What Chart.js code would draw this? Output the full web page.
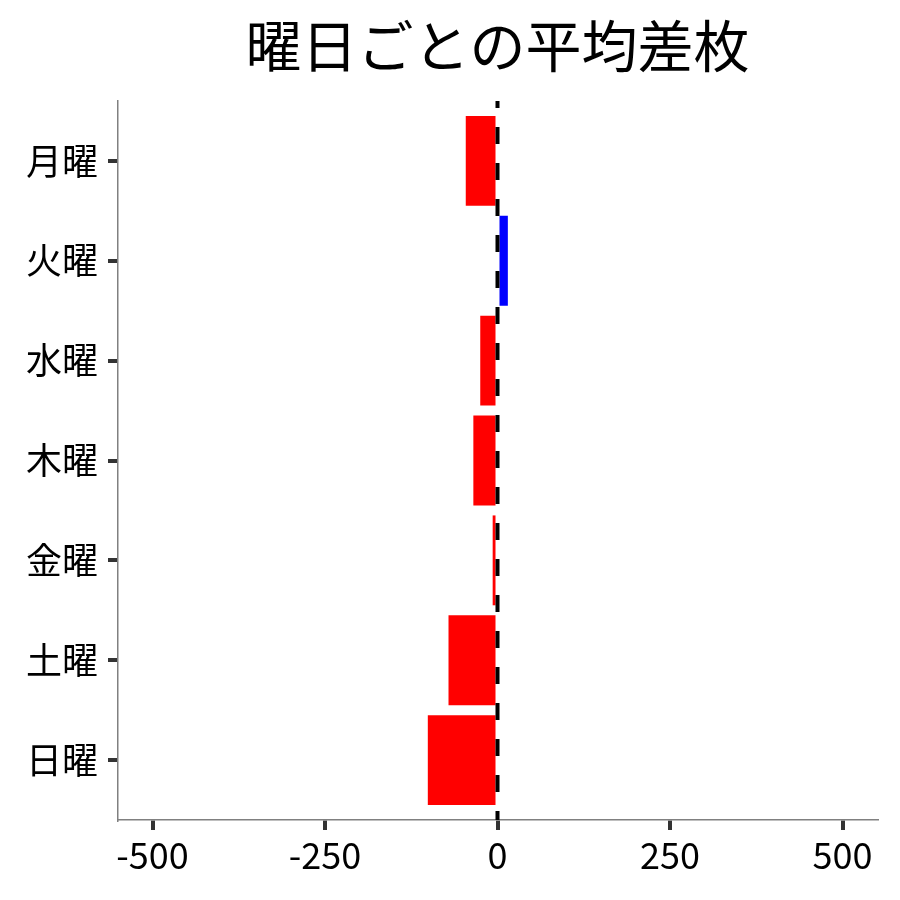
<!DOCTYPE html>
<html>
<head>
<meta charset="utf-8">
<script src="https://cdn.jsdelivr.net/npm/chart.js@4/dist/chart.umd.min.js"></script>
<style>
  html, body { margin: 0; padding: 0; background: #fff; }
  canvas { display: block; }
</style>
</head>
<body>
<canvas id="chart" width="900" height="900"></canvas>
<script>
// data
var days = ['月曜', '火曜', '水曜', '木曜', '金曜', '土曜', '日曜'];
var avgDiff = [-46, 15, -25, -35, -7, -71, -101];
var xTicks = [-500, -250, 0, 250, 500];
var titleText = '曜日ごとの平均差枚';

var FONT = "'Noto Sans CJK JP', 'Noto Sans', sans-serif";

// black dashed line at zero
var zeroLine = {
    id: 'zeroLine',
    afterDatasetsDraw: function (chart) {
        var ctx = chart.ctx;
        var x = chart.scales.x.getPixelForValue(0);
        var area = chart.chartArea;
        ctx.save();
        ctx.strokeStyle = '#000';
        ctx.lineWidth = 4;
        ctx.setLineDash([17, 19]);
        ctx.lineDashOffset = 10;
        ctx.beginPath();
        ctx.moveTo(x, area.top);
        ctx.lineTo(x, area.bottom);
        ctx.stroke();
        ctx.restore();
    }
};

// title centred over the plot area, not the canvas
var plotTitle = {
    id: 'plotTitle',
    afterDraw: function (chart) {
        var ctx = chart.ctx;
        var area = chart.chartArea;
        ctx.save();
        ctx.fillStyle = '#000';
        ctx.font = '56px ' + FONT;
        ctx.textAlign = 'center';
        ctx.textBaseline = 'middle';
        ctx.fillText(titleText, (area.left + area.right) / 2, 46);
        ctx.restore();
    }
};

var points = avgDiff.map(function (v, i) { return { x: v, y: i }; });

new Chart(document.getElementById('chart'), {
    type: 'bar',
    data: {
        datasets: [{
            data: points,
            backgroundColor: avgDiff.map(function (v) { return v < 0 ? '#ff0000' : '#0000ff'; }),
            borderWidth: 0,
            barPercentage: 0.9,
            categoryPercentage: 1.0
        }]
    },
    options: {
        indexAxis: 'y',
        responsive: false,
        animation: false,
        devicePixelRatio: 1,
        layout: { padding: { top: 101, right: 23, left: 0, bottom: 0 } },
        plugins: {
            legend: { display: false },
            tooltip: { enabled: false },
            title: { display: false }
        },
        scales: {
            x: {
                type: 'linear',
                min: -550,
                max: 550,
                afterBuildTicks: function (scale) {
                    scale.ticks = xTicks.map(function (v) { return { value: v }; });
                },
                afterFit: function (scale) { scale.height = 80; },
                ticks: {
                    color: '#000',
                    font: { family: FONT, size: 36 },
                    padding: 4,
                    maxRotation: 0,
                    callback: function (v) { return String(v); }
                },
                grid: {
                    display: true,
                    drawOnChartArea: false,
                    drawTicks: true,
                    tickLength: 10,
                    color: '#333',
                    lineWidth: 4
                },
                border: { display: true, color: '#808080', width: 1.5 }
            },
            y: {
                type: 'linear',
                reverse: true,
                offset: false,
                min: -0.6,
                max: 6.6,
                afterBuildTicks: function (scale) {
                    scale.ticks = days.map(function (d, i) { return { value: i }; });
                },
                afterFit: function (scale) { scale.width = 118; },
                ticks: {
                    color: '#000',
                    font: { family: FONT, size: 36 },
                    padding: 10,
                    callback: function (v) { return days[v]; }
                },
                grid: {
                    display: true,
                    offset: false,
                    drawOnChartArea: false,
                    drawTicks: true,
                    tickLength: 10,
                    color: '#333',
                    lineWidth: 4
                },
                border: { display: true, color: '#808080', width: 1.5 }
            }
        }
    },
    plugins: [zeroLine, plotTitle]
});
</script>
</body>
</html>
